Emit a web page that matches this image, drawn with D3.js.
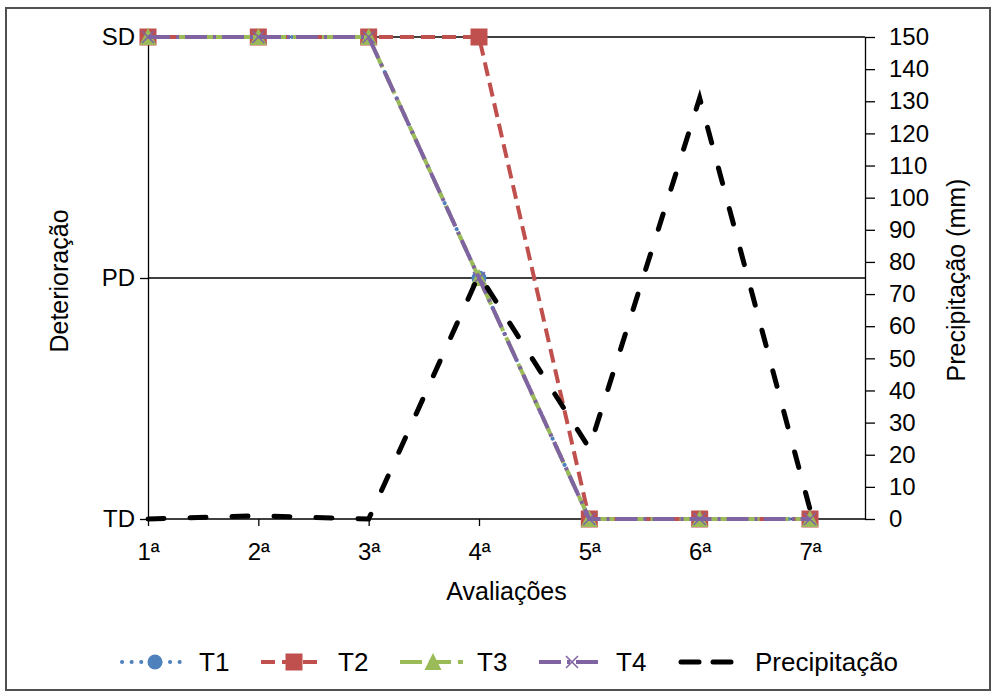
<!DOCTYPE html>
<html>
<head>
<meta charset="utf-8">
<script src="https://cdn.jsdelivr.net/npm/d3@7"></script>
<style>
  body { margin: 0; background: #fff; }
  text { font-family: "Liberation Sans", Arial, sans-serif; fill: #000; }
</style>
</head>
<body>
<div id="chart"></div>
<script>
// data
var avaliacoes = ["1ª", "2ª", "3ª", "4ª", "5ª", "6ª", "7ª"];
var niveis = ["TD", "PD", "SD"];
var t1 = ["SD", "SD", "SD", "PD", "TD", "TD", "TD"];
var t2 = ["SD", "SD", "SD", "SD", "TD", "TD", "TD"];
var t3 = ["SD", "SD", "SD", "PD", "TD", "TD", "TD"];
var t4 = ["SD", "SD", "SD", "PD", "TD", "TD", "TD"];
var precipitacao = [0, 1, 0, 76, 22, 131, 3];
var precipTicks = [0, 10, 20, 30, 40, 50, 60, 70, 80, 90, 100, 110, 120, 130, 140, 150];

var svgWidth = 995, svgHeight = 697;
var plot = { left: 148, right: 865, top: 37, bottom: 519 };

var svg = d3.select("#chart").append("svg")
  .attr("width", svgWidth)
  .attr("height", svgHeight);

// outer frame
svg.append("rect")
  .attr("x", 6).attr("y", 8)
  .attr("width", 984).attr("height", 682)
  .attr("fill", "none")
  .attr("stroke", "#505050")
  .attr("stroke-width", 2);

// scales
var x = d3.scalePoint().domain(avaliacoes).range([plot.left, 810]);
var yL = d3.scalePoint().domain(niveis).range([plot.bottom, plot.top]);
var yR = d3.scaleLinear().domain([0, 150]).range([plot.bottom, plot.top]);

// gridlines at PD and SD
svg.append("g").selectAll("line")
  .data(["PD", "SD"])
  .enter().append("line")
  .attr("x1", plot.left).attr("x2", plot.right)
  .attr("y1", d => yL(d)).attr("y2", d => yL(d))
  .attr("stroke", "#000").attr("stroke-width", 1.3);

// axes
var leftAxis = svg.append("g")
  .attr("transform", `translate(${plot.left},0)`)
  .call(d3.axisLeft(yL).tickSize(8).tickSizeOuter(0).tickPadding(5));

var rightAxis = svg.append("g")
  .attr("transform", `translate(${plot.right},0)`)
  .call(d3.axisRight(yR).tickValues(precipTicks).tickSize(10).tickSizeOuter(0).tickPadding(14));

var bottomAxis = svg.append("g")
  .attr("transform", `translate(0,${plot.bottom})`)
  .call(d3.axisBottom(x).tickSize(7).tickSizeOuter(0).tickPadding(17));
bottomAxis.select(".domain").remove();

svg.append("line")
  .attr("x1", plot.left).attr("x2", plot.right)
  .attr("y1", plot.bottom).attr("y2", plot.bottom)
  .attr("stroke", "#000").attr("stroke-width", 1.3);

svg.selectAll(".tick text")
  .style("font-size", "24px")
  .style("font-family", "'Liberation Sans', Arial, sans-serif");
svg.selectAll(".domain, .tick line").attr("stroke", "#000").attr("stroke-width", 1.3);

// axis titles
svg.append("text")
  .attr("x", (plot.left + plot.right) / 2)
  .attr("y", 600)
  .attr("text-anchor", "middle")
  .style("font-size", "25px")
  .text("Avaliações");

svg.append("text")
  .attr("transform", "translate(68,281) rotate(-90)")
  .attr("text-anchor", "middle")
  .style("font-size", "25px")
  .text("Deterioração");

svg.append("text")
  .attr("transform", "translate(965,280) rotate(-90)")
  .attr("text-anchor", "middle")
  .style("font-size", "25px")
  .text("Precipitação (mm)");

// series
var series = [
  { name: "T1", values: t1, color: "#4F81BD", dash: "0.1 9.5", cap: "round", width: 4, marker: "circle" },
  { name: "T2", values: t2, color: "#C0504D", dash: "14 7", cap: "butt", width: 4, marker: "square" },
  { name: "T3", values: t3, color: "#9BBB59", dash: "22 7", cap: "butt", width: 4, marker: "triangle" },
  { name: "T4", values: t4, color: "#8064A2", dash: "22 6 3 6", cap: "butt", width: 4, marker: "cross" }
];

var line = d3.line()
  .x((d, i) => x(avaliacoes[i]))
  .y(d => yL(d));

function drawMarker(g, type, color, cx, cy) {
  if (type === "circle") {
    g.append("circle").attr("cx", cx).attr("cy", cy).attr("r", 7.5).attr("fill", color);
  } else if (type === "square") {
    g.append("rect").attr("x", cx - 8.5).attr("y", cy - 8.5)
      .attr("width", 17).attr("height", 17).attr("fill", color);
  } else if (type === "triangle") {
    g.append("path")
      .attr("d", `M${cx},${cy - 9}L${cx + 8.5},${cy + 8}L${cx - 8.5},${cy + 8}Z`)
      .attr("fill", color);
  } else {
    g.append("path")
      .attr("d", `M${cx - 6},${cy - 6}L${cx + 6},${cy + 6}M${cx - 6},${cy + 6}L${cx + 6},${cy - 6}`)
      .attr("stroke", color).attr("stroke-width", 1.5).attr("fill", "none");
  }
}

series.forEach(function(s) {
  var g = svg.append("g");
  g.append("path")
    .datum(s.values)
    .attr("d", line)
    .attr("fill", "none")
    .attr("stroke", s.color)
    .attr("stroke-width", s.width)
    .attr("stroke-dasharray", s.dash)
    .attr("stroke-linecap", s.cap);
  s.values.forEach(function(v, i) {
    drawMarker(g, s.marker, s.color, x(avaliacoes[i]), yL(v));
  });
});

// precipitation (secondary axis)
var precipLine = d3.line()
  .x((d, i) => x(avaliacoes[i]))
  .y(d => yR(d));

svg.append("path")
  .datum(precipitacao)
  .attr("d", precipLine)
  .attr("fill", "none")
  .attr("stroke", "#000")
  .attr("stroke-width", 5)
  .attr("stroke-dasharray", "16 26")
  .attr("stroke-linecap", "round");

// legend
var legendItems = series.concat([{ name: "Precipitação", color: "#000", dash: "16 26", cap: "round", width: 5, marker: null }]);
var legend = svg.append("g").attr("transform", "translate(0,662)");

legendItems.forEach(function(s, i) {
  var x0 = 122 + i * 139;
  var g = legend.append("g");
  var sampleDash = s.marker ? s.dash : "18 14";
  g.append("line")
    .attr("x1", x0 + (s.marker ? 0 : 3)).attr("x2", x0 + 63)
    .attr("y1", 0).attr("y2", 0)
    .attr("stroke", s.color)
    .attr("stroke-width", s.width)
    .attr("stroke-dasharray", sampleDash)
    .attr("stroke-linecap", s.cap);
  if (s.marker) drawMarker(g, s.marker, s.color, x0 + 33, 0);
  g.append("text")
    .attr("x", x0 + 77)
    .attr("y", 9)
    .style("font-size", "26px")
    .text(s.name);
});
</script>
</body>
</html>
